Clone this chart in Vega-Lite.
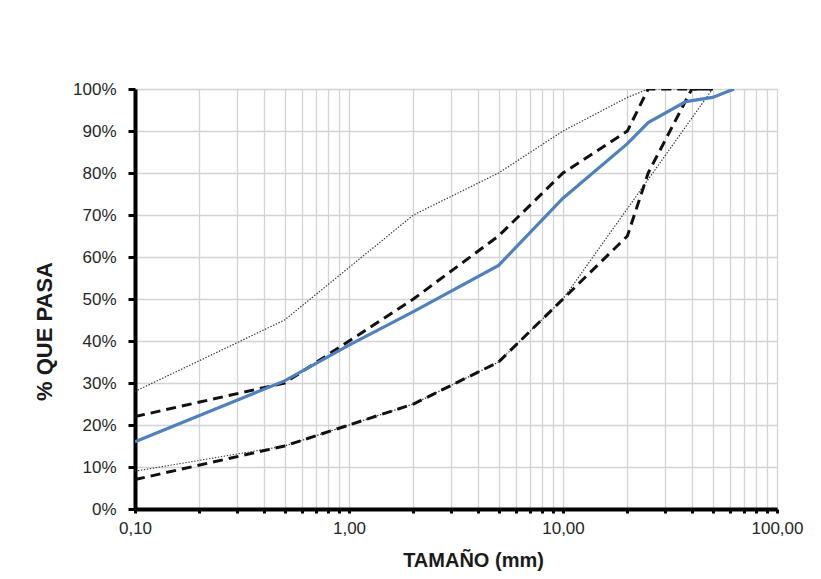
{
  "$schema": "https://vega.github.io/schema/vega-lite/v6.json",
  "width": 642,
  "height": 420,
  "autosize": "none",
  "padding": {"left": 135, "top": 89, "right": 44, "bottom": 70},
  "background": "white",
  "config": {
    "view": {"stroke": null},
    "font": "Liberation Sans",
    "axis": {
      "gridColor": "#d4d4d4",
      "gridWidth": 1.3,
      "domainColor": "black",
      "domainWidth": 4,
      "tickColor": "black",
      "tickWidth": 3,
      "labelFont": "Liberation Sans",
      "labelFontSize": 17,
      "labelColor": "#262626",
      "titleFont": "Liberation Sans",
      "titleFontWeight": "bold",
      "titleColor": "#1a1a1a",
      "labelOverlap": false
    }
  },
  "datasets": {
    "gruesos": [
      {"serie": "Límite superior grueso", "size": 0.1, "pct": 22},
      {"serie": "Límite superior grueso", "size": 0.5, "pct": 30},
      {"serie": "Límite superior grueso", "size": 2, "pct": 50},
      {"serie": "Límite superior grueso", "size": 5, "pct": 65},
      {"serie": "Límite superior grueso", "size": 10, "pct": 80},
      {"serie": "Límite superior grueso", "size": 20, "pct": 90},
      {"serie": "Límite superior grueso", "size": 25, "pct": 100},
      {"serie": "Límite superior grueso", "size": 50, "pct": 100},
      {"serie": "Límite inferior grueso", "size": 0.1, "pct": 7},
      {"serie": "Límite inferior grueso", "size": 0.5, "pct": 15},
      {"serie": "Límite inferior grueso", "size": 2, "pct": 25},
      {"serie": "Límite inferior grueso", "size": 5, "pct": 35},
      {"serie": "Límite inferior grueso", "size": 10, "pct": 50},
      {"serie": "Límite inferior grueso", "size": 20, "pct": 65},
      {"serie": "Límite inferior grueso", "size": 25, "pct": 80},
      {"serie": "Límite inferior grueso", "size": 40, "pct": 100},
      {"serie": "Límite inferior grueso", "size": 50, "pct": 100}
    ],
    "finos": [
      {"serie": "Límite superior fino", "size": 0.1, "pct": 28},
      {"serie": "Límite superior fino", "size": 0.5, "pct": 45},
      {"serie": "Límite superior fino", "size": 2, "pct": 70},
      {"serie": "Límite superior fino", "size": 5, "pct": 80},
      {"serie": "Límite superior fino", "size": 10, "pct": 90},
      {"serie": "Límite superior fino", "size": 20, "pct": 98},
      {"serie": "Límite superior fino", "size": 25, "pct": 100},
      {"serie": "Límite superior fino", "size": 50, "pct": 100},
      {"serie": "Límite inferior fino", "size": 0.1, "pct": 9},
      {"serie": "Límite inferior fino", "size": 0.5, "pct": 15},
      {"serie": "Límite inferior fino", "size": 2, "pct": 25},
      {"serie": "Límite inferior fino", "size": 5, "pct": 35},
      {"serie": "Límite inferior fino", "size": 10, "pct": 50},
      {"serie": "Límite inferior fino", "size": 50, "pct": 100}
    ],
    "muestra": [
      {"size": 0.1, "pct": 16},
      {"size": 0.5, "pct": 30.5},
      {"size": 1, "pct": 39},
      {"size": 2, "pct": 47},
      {"size": 5, "pct": 58},
      {"size": 10, "pct": 74},
      {"size": 20, "pct": 87},
      {"size": 25, "pct": 92},
      {"size": 37.5, "pct": 97},
      {"size": 50, "pct": 98},
      {"size": 63, "pct": 100}
    ]
  },
  "layer": [
    {
      "data": {"name": "finos"},
      "mark": {"type": "line", "clip": true, "color": "#333333", "strokeWidth": 1.2, "strokeDash": [1.4, 1.6]},
      "encoding": {
        "x": {
          "field": "size", "type": "quantitative",
          "scale": {"type": "log", "domain": [0.1, 100], "nice": false},
          "axis": {
            "title": "TAMAÑO (mm)",
            "titleFontSize": 20,
            "titleX": 338,
            "titleAlign": "center",
            "values": [0.1,0.2,0.3,0.4,0.5,0.6,0.7,0.8,0.9,1,2,3,4,5,6,7,8,9,10,20,30,40,50,60,70,80,90,100],
            "labelExpr": "(datum.value==0.1||datum.value==1||datum.value==10||datum.value==100) ? replace(format(datum.value, '.2f'), '.', ',') : ''",
            "tickSize": 4,
            "labelPadding": 7,
            "titlePadding": 14,
            "labelFlush": false
          }
        },
        "y": {
          "field": "pct", "type": "quantitative",
          "scale": {"domain": [0, 100], "nice": false},
          "axis": {
            "title": "% QUE PASA",
            "titleFontSize": 22,
            "titleY": 242,
            "titleAlign": "center",
            "values": [0,10,20,30,40,50,60,70,80,90,100],
            "labelExpr": "datum.value + '%'",
            "tickSize": 7,
            "labelPadding": 12,
            "titlePadding": 16
          }
        },
        "detail": {"field": "serie"}
      }
    },
    {
      "data": {"name": "gruesos"},
      "mark": {"type": "line", "clip": true, "color": "#111111", "strokeWidth": 3, "strokeDash": [10, 6]},
      "encoding": {
        "x": {"field": "size", "type": "quantitative"},
        "y": {"field": "pct", "type": "quantitative"},
        "detail": {"field": "serie"}
      }
    },
    {
      "data": {"name": "muestra"},
      "mark": {"type": "line", "color": "#4F81BD", "strokeWidth": 3.2, "clip": true},
      "encoding": {
        "x": {"field": "size", "type": "quantitative"},
        "y": {"field": "pct", "type": "quantitative"}
      }
    }
  ]
}
